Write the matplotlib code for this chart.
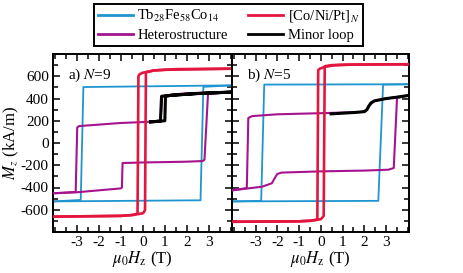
import matplotlib
matplotlib.use("Agg")
import matplotlib.pyplot as plt
from matplotlib.ticker import MultipleLocator, FixedLocator
from matplotlib.lines import Line2D

plt.rcParams['font.family'] = ['Liberation Serif', 'DejaVu Serif']
plt.rcParams['mathtext.fontset'] = 'stix'
plt.rcParams['axes.unicode_minus'] = False

# ---------------- data (field in T, magnetisation in kA/m) ----------------
# Panel a) N=9
tb_a_desc_H = [4.05, -2.70, -2.82, -4.05]
tb_a_desc_M = [518, 503, -512, -525]
tb_a_asc_H = [-4.05, 2.62, 2.75, 4.05]
tb_a_asc_M = [-525, -515, 505, 518]

co_a_desc_H = [4.05, 1.5, 0.5, 0.0, -0.15, -0.20, -0.24, -0.5, -1.0, -4.05]
co_a_desc_M = [668, 664, 652, 632, 618, 600, -635, -648, -655, -662]
co_a_asc_H = [-4.05, -1.0, -0.5, 0.0, 0.06, 0.10, 0.14, 0.5, 1.0, 4.05]
co_a_asc_M = [-662, -655, -648, -632, -618, -600, 635, 652, 658, 668]

het_a_desc_H = [4.05, 2.0, 1.0, 0.88, 0.80, 0.5, -1.0, -2.9, -2.98, -3.05, -4.05]
het_a_desc_M = [458, 448, 428, 420, 200, 192, 180, 152, 140, -440, -452]
het_a_asc_H = [-4.05, -3.0, -1.0, -0.95, -0.92, 0.0, 2.0, 2.72, 2.80, 2.96, 4.05]
het_a_asc_M = [-452, -443, -408, -400, -180, -175, -168, -162, -150, 440, 458]

minor_a_H = [0.35, 0.8, 1.0, 1.03, 1.3, 2.5, 4.05, 2.5, 1.3, 0.85, 0.80, 0.5, 0.35]
minor_a_M = [190, 196, 200, 420, 430, 445, 458, 445, 428, 420, 198, 192, 190]

# Panel b) N=5
tb_b_desc_H = [4.05, -2.60, -2.74, -4.05]
tb_b_desc_M = [528, 525, -520, -525]
tb_b_asc_H = [-4.05, 2.64, 2.86, 4.05]
tb_b_asc_M = [-525, -520, 525, 528]

co_b_desc_H = [4.05, 1.5, 0.6, 0.2, -0.05, -0.12, -0.16, -0.5, -1.0, -4.05]
co_b_desc_M = [708, 705, 698, 685, 668, 655, -690, -700, -704, -708]
co_b_asc_H = [-4.05, -1.0, -0.5, 0.0, 0.08, 0.13, 0.18, 0.5, 1.0, 4.05]
co_b_asc_M = [-708, -704, -698, -685, -668, -655, 690, 700, 704, 708]

het_b_desc_H = [4.05, 3.0, 2.45, 2.2, 2.05, 1.8, 0.0, -2.0, -3.15, -3.33, -3.40, -4.05]
het_b_desc_M = [428, 400, 378, 330, 285, 278, 268, 258, 242, 225, -405, -425]
het_b_asc_H = [-4.05, -2.7, -2.25, -2.1, -2.0, -1.8, 0.0, 2.0, 3.1, 3.35, 3.50, 4.05]
het_b_asc_M = [-425, -393, -362, -310, -278, -266, -255, -248, -240, -225, 405, 428]

minor_b_H = [0.47, 1.0, 1.6, 2.0, 2.12, 2.2, 2.3, 2.45, 2.95, 3.5, 4.05]
minor_b_M = [262, 268, 275, 282, 300, 331, 360, 378, 398, 412, 428]

labels_panel = ['a) $N$=9', 'b) $N$=5']
xtick_vals = [-3, -2, -1, 0, 1, 2, 3]
ytick_vals = [-600, -400, -200, 0, 200, 400, 600]

C_TB = '#1f95d0'
C_CO = '#e4163f'
C_HET = '#a5138e'
C_MIN = '#000000'

fig = plt.figure(figsize=(4.63, 2.73), dpi=100)
W, H = 463, 273
axL = fig.add_axes([53 / W, (H - 232) / H, 179 / W, 178 / H])
axR = fig.add_axes([232 / W, (H - 232) / H, 177 / W, 178 / H])

panels = [
    (axL, (tb_a_desc_H, tb_a_desc_M, tb_a_asc_H, tb_a_asc_M),
     (co_a_desc_H, co_a_desc_M, co_a_asc_H, co_a_asc_M),
     (het_a_desc_H, het_a_desc_M, het_a_asc_H, het_a_asc_M),
     (minor_a_H, minor_a_M), labels_panel[0]),
    (axR, (tb_b_desc_H, tb_b_desc_M, tb_b_asc_H, tb_b_asc_M),
     (co_b_desc_H, co_b_desc_M, co_b_asc_H, co_b_asc_M),
     (het_b_desc_H, het_b_desc_M, het_b_asc_H, het_b_asc_M),
     (minor_b_H, minor_b_M), labels_panel[1]),
]

for ax, tb, co, het, mn, lab in panels:
    ax.plot(tb[0], tb[1], color=C_TB, lw=1.3, zorder=2)
    ax.plot(tb[2], tb[3], color=C_TB, lw=1.3, zorder=2)
    ax.plot(het[0], het[1], color=C_HET, lw=1.5, zorder=3)
    ax.plot(het[2], het[3], color=C_HET, lw=1.5, zorder=3)
    ax.plot(co[0], co[1], color=C_CO, lw=1.9, zorder=4)
    ax.plot(co[2], co[3], color=C_CO, lw=1.9, zorder=4)
    ax.plot(mn[0], mn[1], color=C_MIN, lw=2.2, zorder=5)
    ax.set_xlim(-4.08, 4.05)
    ax.set_ylim(-800, 800)
    ax.xaxis.set_major_locator(FixedLocator(xtick_vals))
    ax.xaxis.set_minor_locator(MultipleLocator(0.5))
    ax.yaxis.set_major_locator(FixedLocator(ytick_vals))
    ax.yaxis.set_minor_locator(MultipleLocator(100))
    ax.tick_params(which='both', direction='in', top=True, right=True,
                   labelsize=11, width=1.1, pad=3)
    ax.tick_params(which='major', length=5)
    ax.tick_params(which='minor', length=3.5)
    for s in ax.spines.values():
        s.set_linewidth(1.4)
    ax.set_xlabel(r'$\mu_0H_\mathrm{z}$ (T)', fontsize=12, labelpad=0)
    ax.text(0.085, 0.88, lab, transform=ax.transAxes, fontsize=11,
            ha='left', va='center')

axL.set_ylabel(r'$M_z$ (kA/m)', fontsize=12, labelpad=0)
axR.tick_params(labelleft=False)

# legend filled row-wise: (Tb, Co/Ni/Pt) / (Heterostructure, Minor loop)
handles = [Line2D([], [], color=C_TB, lw=2),
           Line2D([], [], color=C_HET, lw=2),
           Line2D([], [], color=C_CO, lw=2),
           Line2D([], [], color=C_MIN, lw=2)]
labels = [r'Tb$_{28}$Fe$_{58}$Co$_{14}$', 'Heterostructure',
          r'[Co/Ni/Pt]$_N$', 'Minor loop']
leg = fig.legend(handles, labels, loc='upper center',
                 bbox_to_anchor=(228.5 / W, 1 - 4 / H), ncol=2,
                 fontsize=10.5, frameon=True, fancybox=False, framealpha=1,
                 edgecolor='black', borderpad=0.25, handlelength=2.4,
                 handletextpad=0.3, columnspacing=1.4, labelspacing=0.35,
                 borderaxespad=0)
leg.get_frame().set_linewidth(1.4)

fig.savefig('out.png', dpi=100)
